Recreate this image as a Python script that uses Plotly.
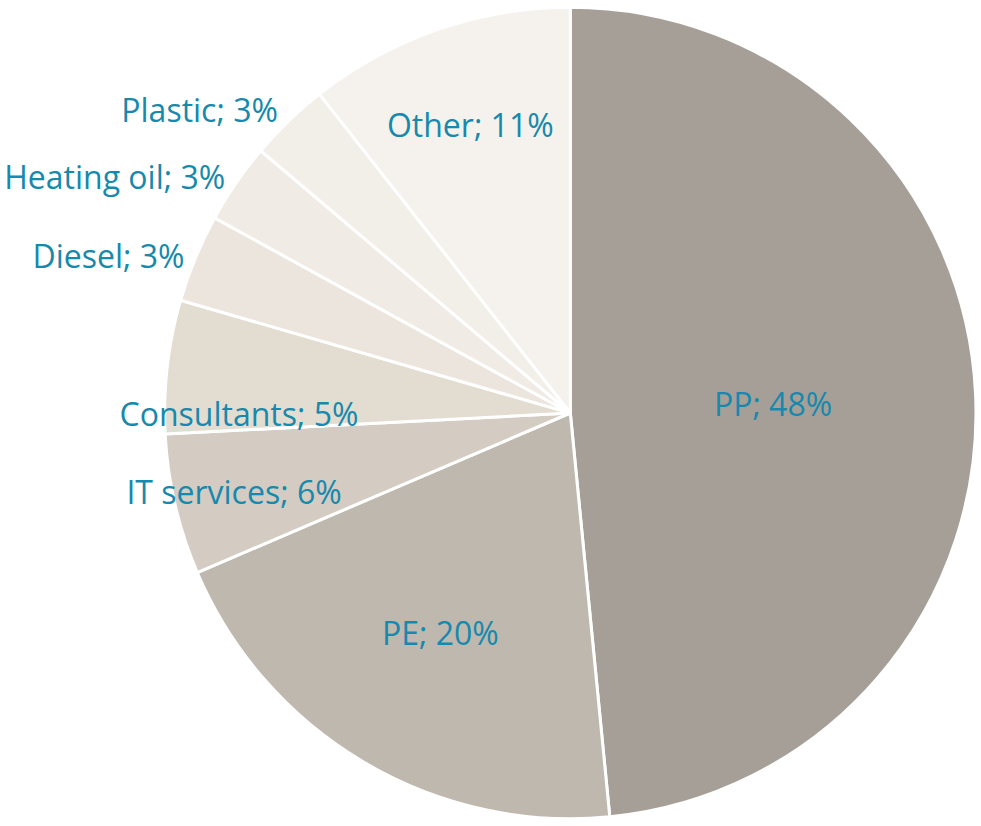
import plotly.graph_objects as go

categories = ["PP", "PE", "IT services", "Consultants", "Diesel", "Heating oil", "Plastic", "Other"]
values = [48.4, 20.1, 5.6, 5.3, 3.5, 3.2, 3.2, 10.6]
label_pct = ["48%", "20%", "6%", "5%", "3%", "3%", "3%", "11%"]
colors = ["#a69f98", "#bfb8ae", "#d4ccc2", "#e3dcd1", "#ece5dd", "#f0ebe4", "#f2eee8", "#f5f2ed"]
positions = ["inside", "inside", "inside", "inside", "outside", "outside", "outside", "inside"]

texts = [f"{c}; {p}" for c, p in zip(categories, label_pct)]

fig = go.Figure(go.Pie(
    labels=categories,
    values=values,
    text=texts,
    textinfo="text",
    textposition=positions,
    insidetextorientation="horizontal",
    sort=False,
    direction="clockwise",
    rotation=0,
    marker=dict(colors=colors, line=dict(color="white", width=3)),
    textfont=dict(family="Open Sans", size=32, color="#1689ac"),
    hoverinfo="skip",
    domain=dict(x=[157/981, 1.0], y=[0.0, 1.0]),
    showlegend=False,
))
fig.update_layout(
    width=981, height=826,
    margin=dict(l=0, r=0, t=0, b=0),
    paper_bgcolor="white",
    plot_bgcolor="white",
    uniformtext=dict(mode="show", minsize=32),
)
fig.write_html("out.html", config={"displayModeBar": False},
               post_script="document.body.style.margin='0';")
